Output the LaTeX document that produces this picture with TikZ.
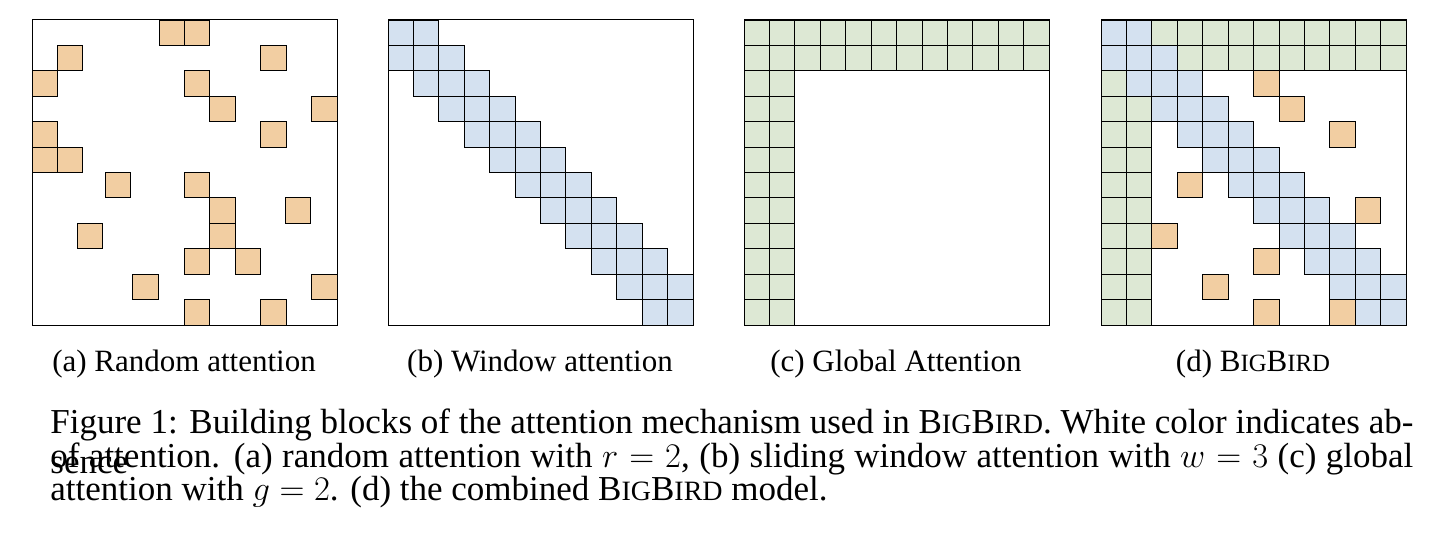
\documentclass[tikz,border=0pt]{standalone}
\usepackage{fontspec}
\setmainfont{Liberation Serif}
\begin{document}
\definecolor{ora}{RGB}{242,206,162}
\definecolor{blu}{RGB}{212,225,240}
\definecolor{gre}{RGB}{221,232,212}
\newcommand{\BB}{B{\fontsize{12.4}{14}\selectfont IG}B{\fontsize{12.4}{14}\selectfont IRD}}
\newcommand{\cBB}{B{\fontsize{14}{16}\selectfont IG}B{\fontsize{14}{16}\selectfont IRD}}
\begin{tikzpicture}[x=0.5pt,y=-0.5pt,
  cell/.style={draw=black,line width=0.45pt},
  frame/.style={draw=black,line width=0.5pt},
  subcap/.style={font=\fontsize{15.5}{18}\selectfont,anchor=base},
  fig/.style={font=\fontsize{17.5}{20}\selectfont,anchor=base west,inner sep=0,text width=681.5pt,align=justify}]
\useasboundingbox (0,0) rectangle (1434,534);
\def\cs{25.42}
% (a) random
\foreach \r/\c in {0/5,0/6,1/1,1/9,2/0,2/6,3/7,3/11,4/0,4/9,5/0,5/1,6/2.88,6/6,7/7,7/9.97,8/1.78,8/7,9/6,9/8,10/3.97,10/11,11/6,11/9}
  \fill[ora,cell] ({32+\c*\cs},{20+\r*\cs}) rectangle +(\cs,\cs);
\draw[frame] (32,20) rectangle +(305,305);
% (b) window
\foreach \r in {0,...,11}{
  \foreach \d in {-1,0,1}{
    \pgfmathtruncatemacro\c{\r+\d}
    \ifnum\c>-1 \ifnum\c<12
      \fill[blu,cell] ({388+\c*\cs},{20+\r*\cs}) rectangle +(\cs,\cs);
    \fi\fi}}
\draw[frame] (388,20) rectangle +(305,305);
% (c) global
\foreach \r in {0,...,11}{
  \foreach \c in {0,...,11}{
    \pgfmathtruncatemacro\g{(\r<2)||(\c<2)}
    \ifnum\g=1
      \fill[gre,cell] ({744+\c*\cs},{20+\r*\cs}) rectangle +(\cs,\cs);
    \fi}}
\draw[frame] (744,20) rectangle +(305,305);
% (d) bigbird
\foreach \r in {0,...,11}{
  \foreach \c in {0,...,11}{
    \pgfmathtruncatemacro\g{(\r<2)||(\c<2)}
    \ifnum\g=1
      \fill[gre,cell] ({1101+\c*\cs},{20+\r*\cs}) rectangle +(\cs,\cs);
    \fi}}
\foreach \r in {0,...,11}{
  \foreach \d in {-1,0,1}{
    \pgfmathtruncatemacro\c{\r+\d}
    \ifnum\c>-1 \ifnum\c<12
      \fill[blu,cell] ({1101+\c*\cs},{20+\r*\cs}) rectangle +(\cs,\cs);
    \fi\fi}}
\foreach \r/\c in {2/6,3/7,4/9,6/3,7/10,8/2,9/6,10/4,11/6,11/9}
  \fill[ora,cell] ({1101+\c*\cs},{20+\r*\cs}) rectangle +(\cs,\cs);
\draw[frame] (1101,20) rectangle +(305,305);
% captions
\node[subcap] (ca) at (184,371) {(a) Random attention};
\node[subcap] (cb) at (540,371) {(b) Window attention};
\node[subcap] (cc) at (896,371) {(c) Global Attention};
\node[subcap] (cd) at (1253,371) {(d) \BB};
\node[fig] (l1) at (50,433) {\parfillskip=0pt Figure 1: Building blocks of the attention mechanism used in \cBB. White color indicates absence\par};
\node[fig] (l2) at (50,467) {\parfillskip=0pt of attention. (a) random attention with $r=2$, (b) sliding window attention with $w=3$ (c) global\par};
\node[fig] (l3) at (50,500) {attention with $g=2$. (d) the combined \cBB{} model.};
\end{tikzpicture}
\end{document}
